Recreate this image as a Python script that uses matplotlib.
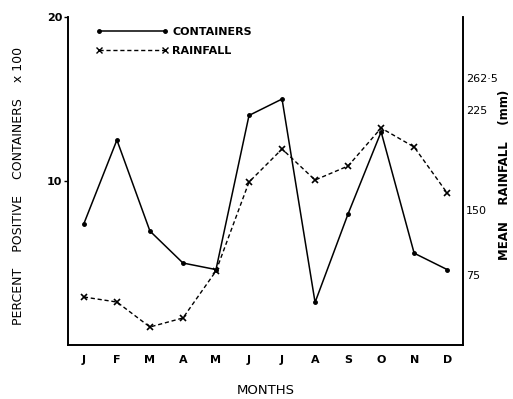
import matplotlib
matplotlib.use("Agg")
import matplotlib.pyplot as plt
from matplotlib.lines import Line2D

months = ["J", "F", "M", "A", "M", "J", "J", "A", "S", "O", "N", "D"]
containers = [7.4, 12.5, 6.95, 5.0, 4.6, 14.0, 15.0, 2.6, 8.0, 13.0, 5.6, 4.6]
rainfall_mm = [49.6, 43.8, 15.0, 25.4, 79.6, 182.3, 220.4, 184.6, 200.8, 244.6, 222.7, 169.6]

left_ticks = [10, 20]
# right axis labels sit where the original hand-lettering put them
right_tick_pos = [75, 150, 265.4, 302.3]
right_tick_labels = ["75", "150", "225", "262·5"]

fig = plt.figure(figsize=(5.13, 3.99), dpi=100)
ax = fig.add_axes([0.1326, 0.1353, 0.770, 0.822])
ax2 = ax.twinx()

x = list(range(len(months)))
ax.plot(x, containers, color="black", lw=1.1, marker="o", ms=2.5)
ax2.plot(x, rainfall_mm, color="black", lw=1.0, ls=(0, (3, 2)), marker="x", ms=5, mew=1.2)

ax.set_xlim(-0.48, 11.48)
ax.set_ylim(0, 20)
ax2.set_ylim(-5.8, 372.7)

ax.set_xticks(x)
ax.set_xticklabels(months, fontsize=8, fontweight="bold")
ax.tick_params(axis="x", length=0, pad=7)
ax.set_yticks(left_ticks)
ax.set_yticklabels([str(t) for t in left_ticks], fontsize=8, fontweight="bold")
ax.tick_params(axis="y", length=3, width=1, pad=1)

ax2.set_yticks(right_tick_pos)
ax2.set_yticklabels(right_tick_labels, fontsize=8)
ax2.tick_params(axis="y", length=0, pad=2)

for a in (ax, ax2):
    a.spines["top"].set_visible(False)
    for s in ("left", "bottom", "right"):
        a.spines[s].set_linewidth(1.2)

ax.set_xlabel("MONTHS", fontsize=9.5)
ax.xaxis.set_label_coords(0.5, -0.118)
ax.set_ylabel("PERCENT    POSITIVE    CONTAINERS    x 100", fontsize=9)
ax.yaxis.set_label_coords(-0.109, 0.485)
ax2.set_ylabel("MEAN    RAINFALL    (mm)", fontsize=8.5, fontweight="bold", rotation=90)
ax2.yaxis.set_label_coords(1.088, 0.52)

handles = [
    Line2D([], [], color="black", lw=1.1, marker="o", ms=2.5),
    Line2D([], [], color="black", lw=1.0, ls=(0, (3, 2)), marker="x", ms=5),
]
ax.legend(handles, ["CONTAINERS", "RAINFALL"], loc="upper left",
          bbox_to_anchor=(0.045, 1.0), frameon=False, numpoints=2,
          handlelength=6.5, handletextpad=0.4, labelspacing=0.8,
          prop={"size": 8, "weight": "bold"})

fig.savefig("out.png", dpi=100)
